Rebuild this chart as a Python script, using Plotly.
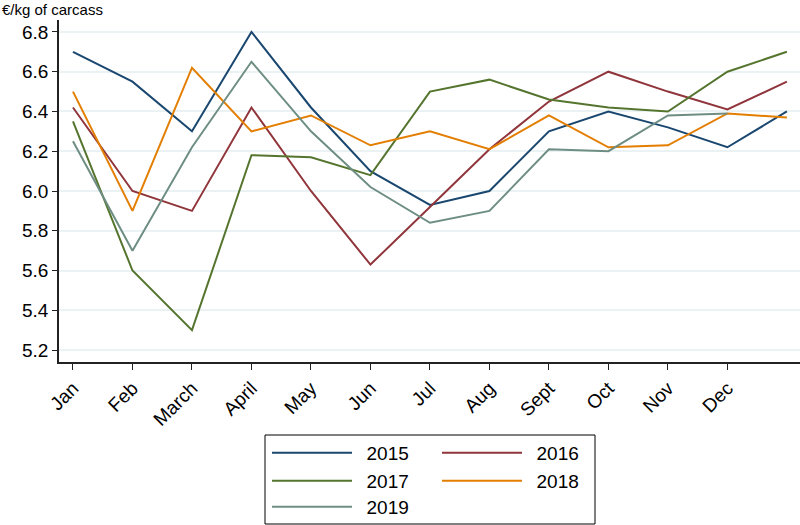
import plotly.graph_objects as go

months = ['Jan', 'Feb', 'March', 'April', 'May', 'Jun', 'Jul', 'Aug', 'Sept', 'Oct', 'Nov', 'Dec']
period = list(range(1, 14))

p2015 = [6.70, 6.55, 6.30, 6.80, 6.42, 6.10, 5.93, 6.00, 6.30, 6.40, 6.32, 6.22, 6.40]
p2016 = [6.42, 6.00, 5.90, 6.42, 6.00, 5.63, 5.92, 6.21, 6.45, 6.60, 6.50, 6.41, 6.55]
p2017 = [6.35, 5.60, 5.30, 6.18, 6.17, 6.08, 6.50, 6.56, 6.46, 6.42, 6.40, 6.60, 6.70]
p2018 = [6.50, 5.90, 6.62, 6.30, 6.38, 6.23, 6.30, 6.21, 6.38, 6.22, 6.23, 6.39, 6.37]
p2019 = [6.25, 5.70, 6.22, 6.65, 6.30, 6.02, 5.84, 5.90, 6.21, 6.20, 6.38, 6.39]

series = [
    ('2015', p2015, '#1a476f', 'legend'),
    ('2016', p2016, '#90353b', 'legend'),
    ('2017', p2017, '#55752f', 'legend2'),
    ('2018', p2018, '#e37e00', 'legend2'),
    ('2019', p2019, '#6e8e84', 'legend3'),
]

fig = go.Figure()
for name, vals, col, leg in series:
    fig.add_trace(go.Scatter(x=period[:len(vals)], y=vals, mode='lines', name='\u2002' + name,
                             line=dict(color=col, width=2), legend=leg))

# legend rows, pixel -> paper: plot spans y 20..362
def py(pix):
    return (362 - pix) / 342.0

leg_common = dict(orientation='h', xanchor='left', yanchor='middle',
                  font=dict(family='Liberation Sans, Arial', size=19, color='#000'),
                  entrywidth=75, entrywidthmode='pixels', itemwidth=80,
                  bgcolor='rgba(0,0,0,0)', tracegroupgap=0)
lx = (267 - 59) / 741.0

fig.update_layout(
    width=800, height=525,
    margin=dict(l=59, r=0, t=20, b=163, autoexpand=False),
    paper_bgcolor='white', plot_bgcolor='white',
    font=dict(family='Liberation Sans, Arial', color='#000'),
    legend=dict(x=lx, y=py(453), **leg_common),
    legend2=dict(x=lx, y=py(481), **leg_common),
    legend3=dict(x=lx, y=py(507), **leg_common),
    xaxis=dict(range=[0.765, 13.22], tickvals=period[:12], ticktext=months,
               tickangle=-45, tickfont=dict(size=19), ticks='outside', ticklen=6,
               tickcolor='#222', showgrid=False, zeroline=False,
               showline=True, linecolor='#222', linewidth=1.5),
    yaxis=dict(range=[5.14, 6.86], tickvals=[5.2, 5.4, 5.6, 5.8, 6.0, 6.2, 6.4, 6.6, 6.8],
               tickformat='.1f', tickfont=dict(size=19), ticks='outside', ticklen=5,
               tickcolor='#222', showgrid=True, gridcolor='#eaf2f3', gridwidth=2,
               zeroline=False, showline=True, linecolor='#222', linewidth=1.5),
    shapes=[dict(type='rect', xref='paper', yref='paper',
                 x0=(265 - 59) / 741.0, x1=(595 - 59) / 741.0, y0=py(524), y1=py(435),
                 line=dict(color='#000', width=1))],
    annotations=[dict(text='€/kg of carcass', xref='paper', yref='paper',
                      x=-59 / 741.0, y=1.0, xanchor='left', yanchor='bottom',
                      showarrow=False, font=dict(size=15))],
)

fig.write_html("out.html", config={'displayModeBar': False},
               post_script="document.body.style.margin='0';")
